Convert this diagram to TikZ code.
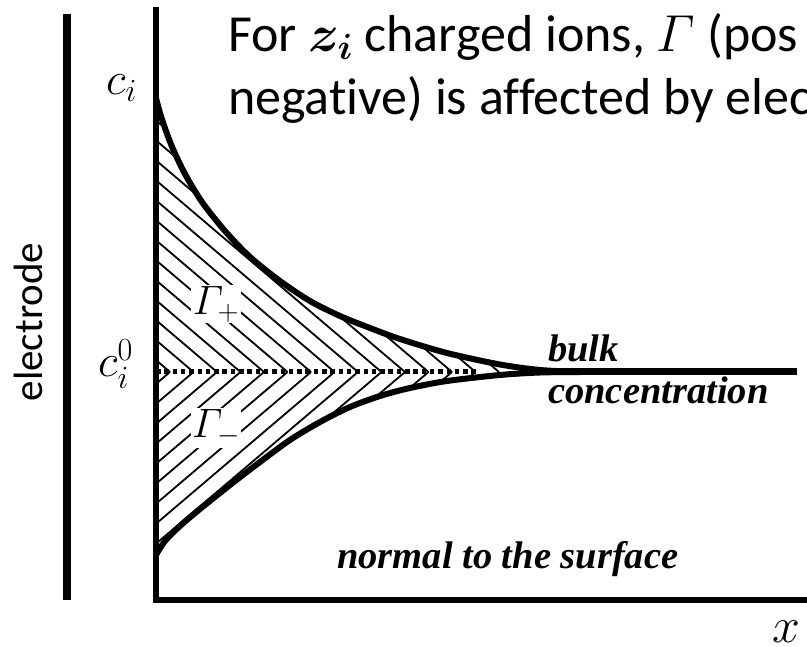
\RequirePackage{fix-cm}
\documentclass[tikz,border=0pt]{standalone}
\usepackage{amsmath}
\usepackage{fontspec}
\setmainfont{Carlito}[Ligatures=NoCommon]
\newfontfamily\timesbi{Liberation Serif}
\tikzset{
  axisline/.style={line width=5.5pt, line join=miter},
  barline/.style={line width=8pt},
  curveline/.style={line width=6pt, line cap=round, line join=round},
  bulkline/.style={line width=7pt},
  hatchline/.style={line width=1.8pt},
  dotline/.style={line width=5pt, dash pattern=on 4.5pt off 3.8pt},
  maintext/.style={font=\fontsize{52}{63}\selectfont, inner sep=0pt, anchor=base west},
  serifbi/.style={font=\timesbi\bfseries\itshape\fontsize{38.5}{46}\selectfont, inner sep=0pt, anchor=base west},
  mathlab/.style={font=\fontsize{46}{55}\selectfont, inner sep=0pt, anchor=base west},
  gammalab/.style={font=\fontsize{41}{49}\selectfont, inner sep=1.5pt, fill=white},
}
\def\upperpts{(156,98) (160,113) (166,131) (173,149) (185,174) (202,202) (225,231) (250,257) (280,281) (310,301) (340,316) (370,328) (400,339) (447,353) (500,364.5) (540,370) (580,372)}
\def\lowerpts{(156,555) (165,541) (180,526) (200,509) (230,485) (260,462) (290,440) (320,422) (350,407) (380,396) (410,388) (447,381) (500,375) (540,372.5) (580,372)}
\begin{document}
\begin{tikzpicture}[x=1pt,y=-1pt]
\clip (0,0) rectangle (807,647);
\fill[white] (0,0) rectangle (807,647);

% hatching, upper region
\begin{scope}
\clip (156,372) -- plot[smooth] coordinates {\upperpts} -- cycle;
\foreach \n in {-1,...,20} \draw[hatchline] ({170+23.5*\n},372) -- ++(-400,-340);
\end{scope}
% hatching, lower region
\begin{scope}
\clip (156,372) -- plot[smooth] coordinates {\lowerpts} -- cycle;
\foreach \n in {-1,...,20} \draw[hatchline] ({170+23.5*\n},372) -- ++(-400,340);
\end{scope}

% labels inside the hatching
\node[gammalab] (gplus) at (216,304) {$\varGamma_{+}$};
\node[gammalab] (gminus) at (216,428) {$\varGamma_{-}$};

% dotted line
\coordinate (d0) at (156,372);
\coordinate (d1) at (478,372);
\draw[dotline] (d0) -- (d1);

% curves
\draw[curveline] plot[smooth] coordinates {\upperpts};
\draw[curveline] plot[smooth] coordinates {\lowerpts};
\coordinate (b0) at (540,372);
\coordinate (b1) at (797,372);
\draw[bulkline] (b0) -- (b1);

% axes
\coordinate (ytop) at (156,7);
\coordinate (xend) at (812,600);
\draw[axisline] (ytop) |- (xend);

% electrode bar
\coordinate (e0) at (67,14);
\coordinate (e1) at (67,600);
\draw[barline] (e0) -- (e1);
\node[rotate=90, anchor=base, inner sep=0pt, font=\fontsize{41}{49}\selectfont] (electrode) at (42,322) {electrode};

% math labels
\node[mathlab] (ci) at (106,95) {$c_i$};
\node[mathlab] (ci0) at (98,377) {$c_i^0$};
\node[mathlab, font=\fontsize{50}{60}\selectfont] (xlab) at (772,642) {$x$};

% texts
\node[serifbi] (bulk) at (548,362) {bulk};
\node[serifbi] (conc) at (548,403) {concentration};
\node[serifbi] (normal) at (337,568) {normal to the surface};

\node[maintext] (line1) at (228,52) {For $\boldsymbol{z_i}$ charged ions, $\varGamma$ (pos};
\node[maintext] (line2) at (228,115) {negative) is affected by elec};
\end{tikzpicture}
\end{document}
